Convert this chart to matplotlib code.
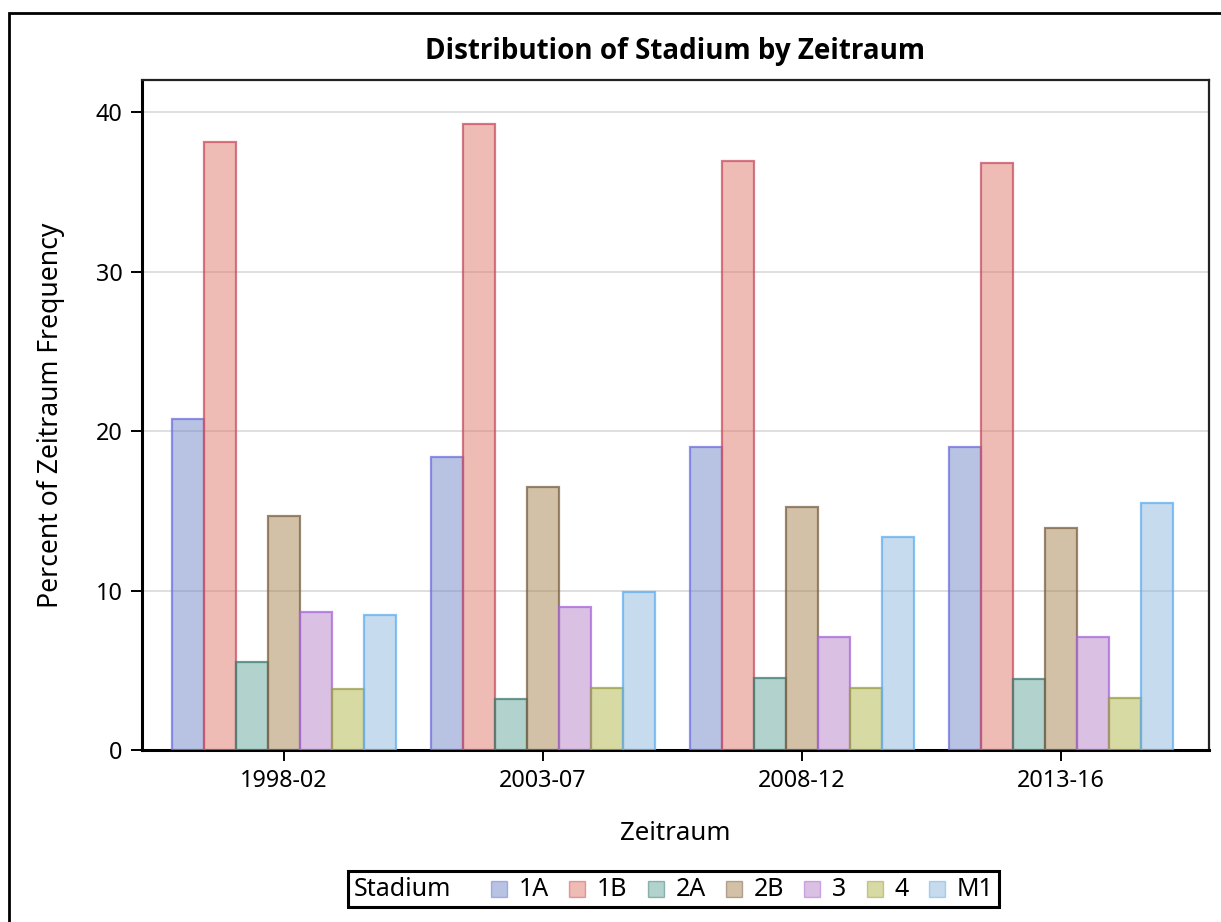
import matplotlib
matplotlib.use("Agg")
import matplotlib.pyplot as plt
import numpy as np
from matplotlib.patches import Rectangle
from matplotlib.colors import to_rgba
from matplotlib.offsetbox import AnchoredOffsetbox, HPacker, TextArea, DrawingArea

plt.rcParams['font.family'] = ['Noto Sans', 'DejaVu Sans']

# ---- data ----
periods = ["1998-02", "2003-07", "2008-12", "2013-16"]
stadium = ["1A", "1B", "2A", "2B", "3", "4", "M1"]
pct_1A = [20.75, 18.35, 19.02, 19.02]
pct_1B = [38.15, 39.26, 36.94, 36.83]
pct_2A = [5.49, 3.17, 4.50, 4.44]
pct_2B = [14.69, 16.47, 15.25, 13.93]
pct_3 = [8.66, 8.96, 7.06, 7.06]
pct_4 = [3.81, 3.88, 3.88, 3.29]
pct_M1 = [8.50, 9.90, 13.39, 15.48]
series = [pct_1A, pct_1B, pct_2A, pct_2B, pct_3, pct_4, pct_M1]

fill_colors = ["#7389C9", "#E1796D", "#67A79F", "#A98551", "#B783C9", "#B3B74B", "#8FB9DD"]
edge_colors = ["#6E6EE0", "#C84E60", "#3F7A70", "#7A6045", "#A865DA", "#9A9C48", "#5FAEF2"]

W, H = 1221, 922
fig = plt.figure(figsize=(W / 100, H / 100), dpi=100)

# outer frame (extends past right/bottom)
fig.patches.append(Rectangle((9 / W, -0.1), 1.2, 1 - 13 / H + 0.1, transform=fig.transFigure,
                             fill=False, edgecolor="black", linewidth=2.0))

ax = fig.add_axes([141.7 / W, 1 - 750 / H, (1208.7 - 141.7) / W, (750 - 80) / H])

x = np.arange(len(periods))
n = len(stadium)
bw = 0.1236
for i, (vals, fc, ec) in enumerate(zip(series, fill_colors, edge_colors)):
    offs = (i - (n - 1) / 2) * bw
    ax.bar(x + offs, vals, width=bw, facecolor=to_rgba(fc, 0.5),
           edgecolor=to_rgba(ec, 0.75), linewidth=1.6, zorder=3)

ax.set_xlim(-0.55, 3.57)
ax.set_ylim(0, 42.03)
ax.set_yticks([0, 10, 20, 30, 40])
ax.set_xticks(x)
ax.set_xticklabels(periods)
ax.yaxis.grid(True, color="#DCDCDC", linewidth=1.3, zorder=0)
ax.set_axisbelow(True)

for side in ["left", "bottom"]:
    ax.spines[side].set_linewidth(2.2)
    ax.spines[side].set_color("black")
for side in ["top", "right"]:
    ax.spines[side].set_linewidth(1.6)
    ax.spines[side].set_color("#222222")

ax.tick_params(axis="both", direction="out", length=8, width=1.4, labelsize=16.8, colors="black")
ax.tick_params(axis="y", pad=6)
ax.tick_params(axis="x", pad=6)

ax.set_xlabel("Zeitraum", fontsize=18.6, labelpad=20)
ax.set_ylabel("Percent of Zeitraum Frequency", fontsize=19.1, labelpad=22)

fig.text(0.5528, 1 - 51 / H, "Distribution of Stadium by Zeitraum", ha="center", va="center",
         fontsize=20, fontweight="bold", family=["Open Sans", "DejaVu Sans"])

# legend
pt = 72 / 100  # points per pixel
items = [TextArea("Stadium", textprops=dict(fontsize=18))]
for name, fc, ec in zip(stadium, fill_colors, edge_colors):
    s = 16 * pt
    da = DrawingArea(s, s, 0, 0)
    da.add_artist(Rectangle((0, 0), s, s, facecolor=to_rgba(fc, 0.5),
                            edgecolor=to_rgba(ec, 0.5), linewidth=1.0))
    items.append(HPacker(children=[da, TextArea(name, textprops=dict(fontsize=18))],
                         pad=0, sep=12 * pt, align="center"))
first = HPacker(children=items[1:], pad=0, sep=20 * pt, align="center")
box = HPacker(children=[items[0], first], pad=0, sep=40 * pt, align="center")
leg = AnchoredOffsetbox(loc="center", child=box, pad=0.4, borderpad=0,
                        bbox_to_anchor=(673.5 / W, 1 - 889 / H), bbox_transform=fig.transFigure,
                        frameon=True)
leg.patch.set_edgecolor("black")
leg.patch.set_linewidth(2.2)
leg.patch.set_boxstyle("square", pad=0)
fig.add_artist(leg)

fig.savefig("out.png", dpi=100)
